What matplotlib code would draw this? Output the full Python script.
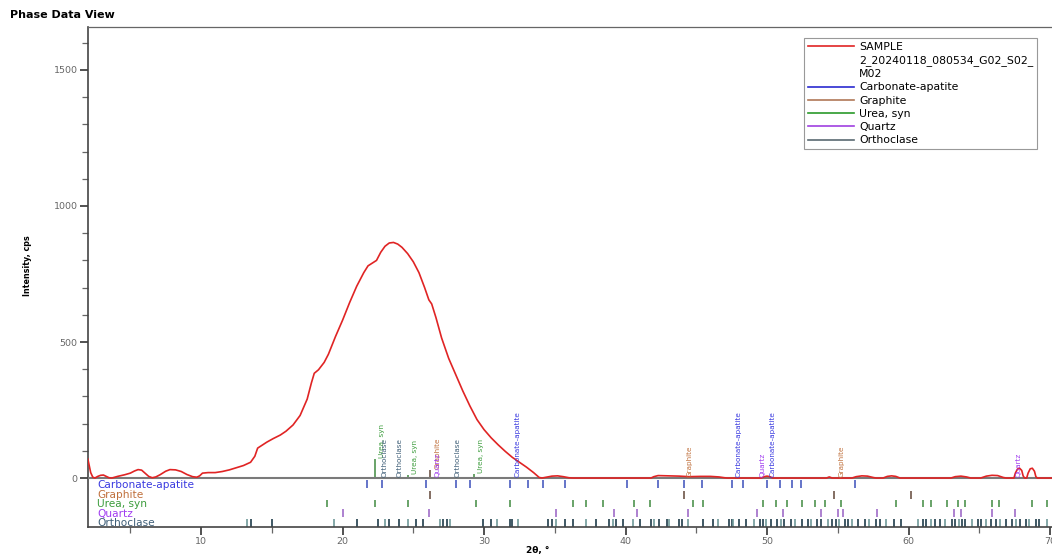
import numpy as np
import matplotlib
matplotlib.use("Agg")
import matplotlib.pyplot as plt
from matplotlib.lines import Line2D

# sample pattern (2theta, cps)
two_theta = [2.0, 2.1, 2.2, 2.35, 2.5, 2.7, 2.9, 3.1, 3.3, 3.5, 3.7, 4.1, 4.6, 5.0, 5.3,
             5.55, 5.8, 6.0, 6.3, 6.55, 6.8, 7.1, 7.5, 7.8, 8.2, 8.6, 9.0, 9.4, 9.7, 9.9,
             10.1, 10.5, 11.0, 11.5, 12.0, 12.5, 13.0, 13.5, 13.8, 14.0, 14.3, 14.65, 15.1,
             15.6, 16.0, 16.5, 17.0, 17.5, 17.8, 18.0, 18.3, 18.7, 19.0, 19.5, 20.0, 20.5,
             21.0, 21.5, 21.8, 22.1, 22.4, 22.7, 23.0, 23.3, 23.6, 23.9, 24.2, 24.6, 25.0,
             25.4, 25.8, 26.1, 26.3, 26.6, 27.0, 27.5, 28.0, 28.5, 29.0, 29.5, 30.0, 30.5,
             31.0, 31.5, 32.0, 32.5, 33.0, 33.5, 33.9, 34.1, 34.4, 34.8, 35.2, 35.6, 36.0,
             36.3, 41.8, 42.0, 42.3, 43.0, 43.8, 44.5, 45.3, 46.0, 46.6, 47.0, 47.2, 49.6,
             49.8, 50.0, 50.2, 50.4, 54.2, 54.4, 54.6, 56.0, 56.3, 56.7, 57.1, 57.5, 57.7,
             58.2, 58.5, 58.8, 59.1, 59.4, 63.0, 63.3, 63.7, 64.1, 64.4, 65.1, 65.5, 65.9,
             66.3, 66.7, 66.9, 67.45, 67.55, 67.7, 67.85, 68.0, 68.1, 68.2, 68.35, 68.45,
             68.6, 68.75, 68.9, 69.0, 69.1, 70.2]
cps = [70, 45, 20, 3, 0, 6, 10, 11, 6, 1, 0, 6, 12, 18, 26,
       31, 29, 20, 6, 1, 4, 12, 25, 31, 30, 24, 13, 5, 3, 8,
       18, 20, 20, 24, 30, 38, 46, 58, 80, 110, 120, 132, 145,
       158, 172, 195, 230, 290, 350, 385, 398, 425, 455, 520, 580, 645,
       705, 755, 780, 790, 800, 830, 852, 864, 866, 860, 848, 825, 795,
       755, 700, 655, 640, 590, 515, 440, 380, 320, 265, 215, 178, 148,
       122, 98, 76, 58, 40, 20, 2, 0, 3, 7, 8, 5, 1,
       0, 0, 5, 9, 8, 7, 5, 6, 6, 4, 1, 0, 0,
       5, 7, 5, 0, 0, 4, 0, 0, 5, 8, 7, 2, 0,
       0, 6, 8, 6, 0, 0, 5, 7, 4, 0, 0, 7, 10,
       9, 2, 0, 0, 18, 33, 36, 28, 8, 0, 0, 18,
       34, 36, 25, 5, 0, 0]

phases = ["Carbonate-apatite", "Graphite", "Urea, syn", "Quartz", "Orthoclase"]
sample_name = ["SAMPLE", "2_20240118_080534_G02_S02_", "M02"]

carbonate_pos = [21.7, 22.8, 25.9, 28.0, 29.0, 31.8, 33.1, 34.2, 35.7, 40.1, 42.3, 44.1,
                 45.4, 47.5, 48.3, 50.0, 50.9, 51.8, 52.4, 56.2]
graphite_pos = [26.2, 44.1, 54.7, 60.2]
urea_pos = [18.9, 22.3, 24.6, 29.4, 31.8, 36.3, 37.2, 38.4, 40.6, 41.7, 44.8, 45.5, 49.7,
            50.6, 51.4, 52.5, 53.4, 54.1, 55.2, 59.1, 61.0, 61.6, 62.7, 63.5, 64.0, 65.9,
            66.4, 68.7, 69.8]
quartz_pos = [20.0, 26.1, 35.1, 39.2, 40.8, 44.4, 49.3, 51.1, 53.8, 55.0, 55.4, 57.8,
              63.2, 63.7, 65.9, 67.5]
orthoclase_pos = [13.25, 13.5, 15.0, 19.4, 21.0, 22.5, 23.0, 23.3, 24.0, 24.6, 25.2, 25.7,
                  26.9, 27.1, 27.4, 27.6, 29.9, 30.5, 30.9, 31.8, 32.0, 32.4, 34.5, 34.8,
                  35.1, 35.7, 36.3, 37.2, 37.9, 38.8, 39.1, 39.3, 39.8, 40.5, 41.0, 41.8,
                  42.0, 42.4, 42.9, 43.1, 43.8, 44.0, 44.4, 45.5, 46.2, 46.5, 47.3, 47.5,
                  47.6, 48.0, 48.5, 49.1, 49.5, 49.7, 49.9, 50.3, 50.7, 51.0, 51.2, 51.7,
                  52.0, 52.5, 52.9, 53.1, 53.5, 53.8, 54.3, 54.6, 54.9, 55.1, 55.5, 55.7,
                  56.0, 56.4, 56.9, 57.2, 57.7, 58.0, 58.4, 59.0, 59.5, 60.7, 61.0, 61.2,
                  61.6, 61.9, 62.2, 62.6, 63.1, 63.3, 63.6, 63.8, 64.0, 64.5, 64.9, 65.1,
                  65.5, 65.8, 66.2, 66.5, 66.9, 67.3, 67.6, 67.9, 68.3, 68.5, 69.0, 69.2, 69.8]

# labelled peaks above the baseline: (2theta, phase index, bar height)
peak_x = [22.3, 22.5, 23.5, 24.6, 26.2, 26.2, 27.6, 29.3, 31.9, 44.0, 47.5, 49.2, 49.9, 54.8, 67.3]
peak_phase = [2, 4, 4, 2, 1, 3, 4, 2, 0, 1, 0, 3, 0, 1, 3]
peak_h = [70, 0, 0, 11, 29, 0, 0, 15, 0, 0, 0, 0, 0, 0, 0]

row_colors = ["#4a5cc0", "#6e5548", "#4f944f", "#a06cc8", "#2f4f5f"]
text_colors = ["#3a3ae0", "#c0703c", "#3c9c3c", "#a03cf0", "#3f5f78"]
legend_colors = ["#2a2ad0", "#b07858", "#2a9a2a", "#a040e0", "#5a6a72"]
rows_y = [(-8, -36), (-46, -76), (-80, -108), (-113, -145), (-150, -180)]

fig = plt.figure(figsize=(10.52, 5.57), dpi=100)
ax = fig.add_axes([88 / 1052, 30 / 557, 964 / 1052, 500 / 557])

ax.plot(two_theta, cps, color="#e02424", lw=1.2, zorder=4)
ax.axhline(0, color="#7a7a7a", lw=1.5, zorder=3)

all_pos = [carbonate_pos, graphite_pos, urea_pos, quartz_pos, orthoclase_pos]
for i, pos in enumerate(all_pos):
    y0, y1 = rows_y[i]
    if i == 4:
        cols = ["#1f3c4a" if k % 3 else "#6f9a9a" for k in range(len(pos))]
    else:
        cols = row_colors[i]
    ax.vlines(pos, y1, y0, colors=cols, lw=1.2, zorder=2)
    ax.text(2.65, (y0 + y1) / 2 - 2, phases[i], color=text_colors[i], fontsize=7.6,
            ha="left", va="center", clip_on=True, zorder=5)

for x, p, h in zip(peak_x, peak_phase, peak_h):
    if h > 0:
        ax.vlines(x, 0, h, colors=row_colors[p], lw=1.2, zorder=2)
    ax.text(x + 0.5, h + 3, phases[p], rotation=90, color=text_colors[p], fontsize=5.2,
            ha="center", va="bottom", zorder=5)

ax.set_xlim(2.01, 70.14)
ax.set_ylim(-180, 1658)
ax.set_xticks(range(10, 71, 10))
ax.set_xticks(range(5, 70, 10), minor=True)
ax.set_yticks([0, 500, 1000, 1500])
ax.set_yticks([v for v in range(100, 1700, 100) if v % 500], minor=True)
ax.tick_params(axis="both", which="major", length=6, width=1.2, color="#333333",
               labelsize=6.8, labelcolor="#666666", pad=1.5)
ax.tick_params(axis="both", which="minor", length=4, width=0.9, color="#666666")

for side in ["left", "bottom"]:
    ax.spines[side].set_color("#444444")
    ax.spines[side].set_linewidth(1.2)
ax.spines["top"].set_color("#666666")
ax.spines["top"].set_linewidth(0.9)
ax.spines["right"].set_visible(False)

fig.text(10 / 1052, 1 - 15 / 557, "Phase Data View", fontsize=8, fontweight="bold",
         ha="left", va="center")
fig.text(28 / 1052, 1 - 266 / 557, "Intensity, cps", fontsize=5.8, fontweight="bold",
         rotation=90, ha="center", va="center")
fig.text(538 / 1052, 1 - 551 / 557, "2θ, °", fontsize=6.5, fontweight="bold",
         ha="center", va="center")

# sample name split on three legend rows, handle only on the first
handles = [Line2D([], [], color="#e02424", lw=1.2),
           Line2D([], [], color="none"), Line2D([], [], color="none")] + \
          [Line2D([], [], color=c, lw=1.2) for c in legend_colors]
labels = sample_name + phases
leg = fig.legend(handles, labels, loc="upper right", bbox_to_anchor=(1037 / 1052, 1 - 38 / 557),
                 fontsize=7.8, handlelength=4.3, handletextpad=0.45, labelspacing=0.3,
                 borderpad=0.35, borderaxespad=0, fancybox=False, framealpha=1,
                 edgecolor="#999999")
leg.get_frame().set_linewidth(0.8)

fig.savefig("out.png", dpi=100)
